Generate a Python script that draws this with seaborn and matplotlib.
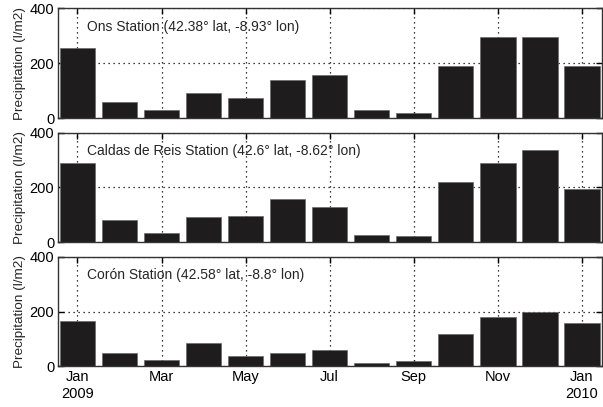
import numpy as np
import pandas as pd
import seaborn as sns
import matplotlib.pyplot as plt

# monthly precipitation, Jan 2009 .. Jan 2010
months = ["Jan 2009", "Feb", "Mar", "Apr", "May", "Jun", "Jul", "Aug",
          "Sep", "Oct", "Nov", "Dec", "Jan 2010"]
ons = [256, 60, 29, 92, 72, 140, 155, 29, 20, 188, 295, 295, 188]
caldas = [289, 80, 35, 91, 95, 159, 127, 28, 24, 218, 290, 336, 195]
coron = [166, 49, 23, 86, 38, 49, 61, 11, 19, 118, 181, 200, 158]

titles = ["Ons Station (42.38\u00b0 lat, -8.93\u00b0 lon)",
          "Caldas de Reis Station (42.6\u00b0 lat, -8.62\u00b0 lon)",
          "Cor\u00f3n Station (42.58\u00b0 lat, -8.8\u00b0 lon)"]
tick_labels = ["Jan\n2009", "Mar", "May", "Jul", "Sep", "Nov", "Jan\n2010"]

sns.set_style("ticks")
plt.rcParams["font.family"] = ["Liberation Sans", "DejaVu Sans"]
plt.rcParams["font.size"] = 10

fig = plt.figure(figsize=(6.03, 4.07), dpi=100)
boxes = [[0.097, 0.710, 0.902, 0.270],
         [0.097, 0.405, 0.902, 0.269],
         [0.097, 0.100, 0.902, 0.269]]

for i, (box, vals, title) in enumerate(zip(boxes, [ons, caldas, coron], titles)):
    ax = fig.add_axes(box)
    df = pd.DataFrame({"month": months, "precip": vals})
    sns.barplot(data=df, x="month", y="precip", order=months, ax=ax,
                color="#1e1c1d", saturation=1, width=0.845,
                edgecolor="#6a6a6a", linewidth=0.5)
    ax.set_axisbelow(True)
    ax.set_xlim(-0.452, 12.49)
    ax.set_ylim(0, 400)
    ax.set_yticks([0, 200, 400])
    ax.set_xticks(range(0, 13, 2))
    ax.grid(True, color="black", linestyle=(0, (1, 3)), linewidth=0.9)
    for s in ax.spines.values():
        s.set_visible(True)
        s.set_color("#333333")
        s.set_linewidth(1.0)
    ax.tick_params(direction="in", length=4, width=1, top=True, right=True,
                   labelsize=10.5, pad=3, colors="black")
    ax.set_ylabel("Precipitation (l/m2)", fontsize=9.7, labelpad=3)
    ax.set_xlabel("")
    ax.text(0.053, 0.83, title, transform=ax.transAxes, fontsize=10,
            va="center", ha="left")
    if i == 2:
        ax.set_xticklabels(tick_labels)
    else:
        ax.set_xticklabels([])

fig.savefig("out.png", dpi=100)
